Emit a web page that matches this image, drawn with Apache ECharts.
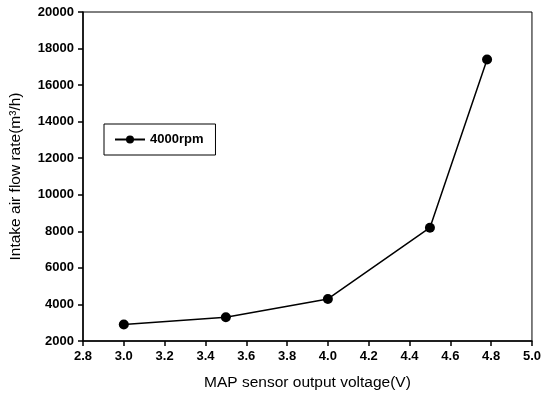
<!DOCTYPE html>
<html>
<head>
<meta charset="utf-8">
<script src="https://cdn.jsdelivr.net/npm/echarts@6/dist/echarts.min.js"></script>
<style>
html, body { margin: 0; padding: 0; background: #fff; }
#main { width: 544px; height: 399px; }
</style>
</head>
<body>
<div id="main"></div>
<script>
var voltage = [3.0, 3.5, 4.0, 4.5, 4.78];
var flowRate = [2900, 3300, 4300, 8200, 17400];
var seriesName = '4000rpm';

var points = voltage.map(function(v, i) { return [v, flowRate[i]]; });

var myChart = echarts.init(document.getElementById('main'));
var font = 'Liberation Sans, Arial, sans-serif';
var option = {
	animation: false,
	backgroundColor: '#fff',
	grid: {
		left: 80,
		right: 9,
		top: 12,
		bottom: 58,
		show: true,
		borderColor: '#000',
		borderWidth: 1
	},
	legend: {
		left: 104,
		top: 124,
		orient: 'vertical',
		borderColor: '#000',
		borderWidth: 1,
		padding: [9, 12, 9, 10],
		itemWidth: 30,
		itemHeight: 10,
		textStyle: { fontFamily: font, fontWeight: 'bold', fontSize: 13, color: '#000' },
		data: [seriesName]
	},
	xAxis: {
		type: 'value',
		min: 2.8,
		max: 5.0,
		interval: 0.2,
		name: 'MAP sensor output voltage(V)',
		nameLocation: 'middle',
		nameGap: 34,
		nameTextStyle: { fontFamily: font, fontSize: 15.5, color: '#000' },
		axisLine: { lineStyle: { color: '#000', width: 1.5 } },
		axisTick: { show: true, length: 5, lineStyle: { color: '#000', width: 1.5 } },
		axisLabel: {
			margin: 9,
			fontFamily: font, fontWeight: 'bold', fontSize: 13, color: '#000',
			formatter: function(v) { return v.toFixed(1); }
		},
		splitLine: { show: false }
	},
	yAxis: {
		type: 'value',
		min: 2000,
		max: 20000,
		interval: 2000,
		name: 'Intake air flow rate(m\u00b3/h)',
		nameLocation: 'middle',
		nameGap: 59,
		nameTextStyle: { fontFamily: font, fontSize: 15.5, color: '#000' },
		axisLine: { show: true, lineStyle: { color: '#000', width: 1.5 } },
		axisTick: { show: true, length: 5, lineStyle: { color: '#000', width: 1.5 } },
		axisLabel: {
			margin: 9,
			fontFamily: font, fontWeight: 'bold', fontSize: 13, color: '#000',
			formatter: function(v) { return String(v); }
		},
		splitLine: { show: false }
	},
	series: [{
		name: seriesName,
		type: 'line',
		data: points,
		symbol: 'circle',
		symbolSize: 10,
		itemStyle: { color: '#000' },
		lineStyle: { color: '#000', width: 1.5 }
	}]
};
myChart.setOption(option);
</script>
</body>
</html>
